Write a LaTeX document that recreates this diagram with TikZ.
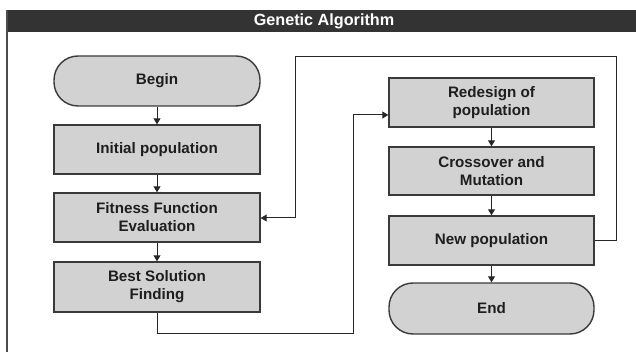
\documentclass[tikz,border=0pt]{standalone}
\usepackage{fontspec}
\setmainfont{Liberation Sans}
\usetikzlibrary{arrows.meta,positioning}
\definecolor{boxfill}{HTML}{D2D2D2}
\definecolor{boxline}{HTML}{3A3A3A}
\definecolor{barfill}{HTML}{333333}
\definecolor{txt}{HTML}{1E1E1E}
\begin{document}
\begin{tikzpicture}[x=1pt,y=-1pt,
  procbox/.style={draw=boxline,line width=1.4pt,fill=boxfill,text=txt,
    minimum width=206pt,inner sep=0pt,align=center,
    font=\fontsize{15.2}{18}\selectfont\bfseries},
  termbox/.style={procbox,rounded corners=24pt},
  conn/.style={draw=black!85,line width=1pt,-{Triangle[width=7pt,length=6pt]}},
  plainconn/.style={draw=black!85,line width=1pt}]
\useasboundingbox (0,0) rectangle (636,352);
% frame
\fill[barfill] (7,10) rectangle (636,32);
\draw[black!80,line width=0.8pt] (7,10) -- (636,10);
\draw[black!70,line width=2pt] (7,10) -- (7,352);
\node[text=white,font=\fontsize{16.2}{18}\selectfont\bfseries] (title) at (324,21.5) {Genetic Algorithm};
% nodes
\node[termbox,minimum height=50pt] (begin) at (157,81) {Begin};
\node[procbox,minimum height=49pt] (init) at (157,149.5) {Initial population};
\node[procbox,minimum height=49pt] (fit) at (157,217.5) {Fitness Function\\Evaluation};
\node[procbox,minimum height=50pt] (best) at (157,287) {Best Solution\\Finding};
\node[procbox,minimum width=205pt,minimum height=49pt] (redesign) at (491.5,102.5) {Redesign of\\population};
\node[procbox,minimum width=205pt,minimum height=48pt] (cross) at (491.5,171) {Crossover and\\Mutation};
\node[procbox,minimum width=205pt,minimum height=49pt] (newpop) at (491.5,240.5) {New population};
\node[termbox,minimum width=205pt,minimum height=51pt] (end) at (491.5,308.5) {End};
% vertical arrows
\draw[conn] (begin) -- (init);
\draw[conn] (init) -- (fit);
\draw[conn] (fit) -- (best);
\draw[conn] (redesign) -- (cross);
\draw[conn] (cross) -- (newpop);
\draw[conn] (newpop) -- (end);
% best -> redesign
\coordinate (lowturn) at (353,333);
\coordinate (redin) at (389,115);
\draw[conn] (best.south) |- (lowturn) |- (redin -| redesign.west);
% new population -> fitness
\coordinate (rtop) at (616,57);
\coordinate (ltop) at (295,57);
\coordinate (fitin) at (295,218);
\draw[conn] (newpop.east) -| (rtop) -- (ltop) |- (fitin -| fit.east);
\end{tikzpicture}
\end{document}
